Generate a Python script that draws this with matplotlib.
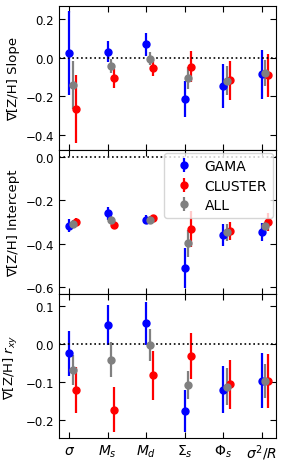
import matplotlib
matplotlib.use("Agg")
import matplotlib.pyplot as plt
import numpy as np

labels = [r"$\sigma$", r"$M_s$", r"$M_d$", r"$\Sigma_s$", r"$\Phi_s$", r"$\sigma^2/R$"]

# Slope
slope_gama = [0.025, 0.033, 0.070, -0.214, -0.146, -0.086]
slope_gama_err = [0.217, 0.057, 0.059, 0.095, 0.114, 0.126]
slope_all = [-0.139, -0.042, -0.005, -0.105, -0.119, -0.079]
slope_all_err = [0.125, 0.037, 0.033, 0.057, 0.075, 0.068]
slope_clus = [-0.268, -0.107, -0.053, -0.046, -0.118, -0.091]
slope_clus_err = [0.178, 0.048, 0.041, 0.081, 0.099, 0.112]

# Intercept
int_gama = [-0.317, -0.260, -0.289, -0.510, -0.360, -0.347]
int_gama_err = [0.030, 0.029, 0.020, 0.092, 0.052, 0.041]
int_all = [-0.309, -0.289, -0.289, -0.398, -0.347, -0.320]
int_all_err = [0.018, 0.018, 0.015, 0.063, 0.038, 0.018]
int_clus = [-0.298, -0.314, -0.282, -0.332, -0.343, -0.298]
int_clus_err = [0.015, 0.018, 0.015, 0.084, 0.041, 0.041]

# r_xy
r_gama = [-0.025, 0.049, 0.054, -0.176, -0.120, -0.097]
r_gama_err = [0.058, 0.053, 0.056, 0.056, 0.062, 0.072]
r_all = [-0.069, -0.041, -0.002, -0.108, -0.112, -0.097]
r_all_err = [0.039, 0.047, 0.042, 0.037, 0.048, 0.044]
r_clus = [-0.121, -0.173, -0.082, -0.031, -0.106, -0.097]
r_clus_err = [0.060, 0.059, 0.064, 0.060, 0.065, 0.070]

panels = [
    (slope_gama, slope_gama_err, slope_clus, slope_clus_err, slope_all, slope_all_err,
     "\u2207[Z/H] Slope", (-0.48, 0.27), [-0.4, -0.2, 0.0, 0.2]),
    (int_gama, int_gama_err, int_clus, int_clus_err, int_all, int_all_err,
     "\u2207[Z/H] Intercept", (-0.63, 0.03), [-0.6, -0.4, -0.2, 0.0]),
    (r_gama, r_gama_err, r_clus, r_clus_err, r_all, r_all_err,
     "\u2207[Z/H] $r_{xy}$", (-0.247, 0.131), [-0.2, -0.1, 0.0, 0.1]),
]

plt.rcParams['font.size'] = 8.5
fig = plt.figure(figsize=(2.85, 4.64), dpi=100)
x = np.arange(len(labels))
L, R = 59 / 285, 276 / 285
tops = [7, 151, 295]
h = 144
axes = []
for i, (g, ge, c, ce, a, ae, ylab, ylim, yt) in enumerate(panels):
    ax = fig.add_axes([L, 1 - (tops[i] + h) / 464, R - L, h / 464])
    axes.append(ax)
    kw = dict(fmt='o', ms=5, elinewidth=1.6, capsize=0)
    ax.errorbar(x, g, yerr=ge, color='blue', label='GAMA', **kw)
    ax.errorbar(x + 0.17, c, yerr=ce, color='red', label='CLUSTER', **kw)
    ax.errorbar(x + 0.09, a, yerr=ae, color='grey', label='ALL', **kw)
    ax.axhline(0, color='black', ls=':', lw=1.2)
    ax.set_xlim(-0.27, 5.37)
    ax.set_ylim(*ylim)
    ax.set_yticks(yt)
    ax.set_xticks(x)
    ax.tick_params(direction='in', top=True, right=True, length=4)
    ax.set_ylabel(ylab, fontsize=9.5)
    if i < 2:
        ax.set_xticklabels([])
    else:
        ax.set_xticklabels(labels, fontsize=10)
    if i == 1:
        ax.legend(loc='upper right', fontsize=10, borderaxespad=0.25,
                  labelspacing=0.4, handletextpad=0.5)

fig.align_ylabels(axes)
fig.savefig("out.png", dpi=100)
